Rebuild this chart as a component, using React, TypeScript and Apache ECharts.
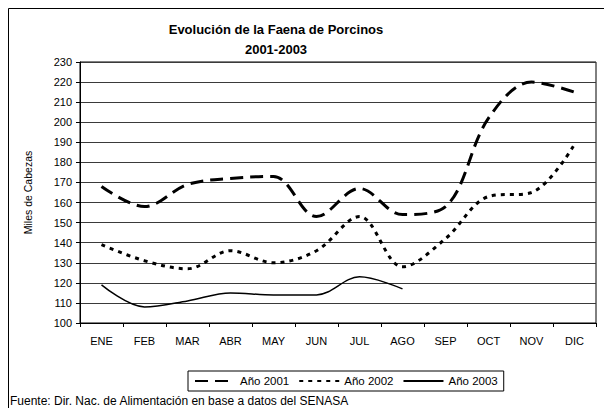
import React, { useEffect, useRef } from "react";
import * as echarts from "echarts";

const months = ["ENE", "FEB", "MAR", "ABR", "MAY", "JUN", "JUL", "AGO", "SEP", "OCT", "NOV", "DIC"];
const y2001 = [168, 158, 169, 172, 173, 153, 167, 154, 158, 202, 220, 215];
const y2002 = [139, 131, 127, 136, 130, 136, 153, 128, 142, 163, 165, 189];
const y2003 = [119, 108, 111, 115, 114, 114, 123, 117];
const seriesNames = ["Año 2001", "Año 2002", "Año 2003"];

export default function App() {
  const ref = useRef<HTMLDivElement>(null);
  useEffect(() => {
    if (!ref.current) return;
    const chart = echarts.init(ref.current, null, { renderer: "svg" });
    const font = "Liberation Sans, Arial, sans-serif";
    chart.setOption({
      animation: false,
      backgroundColor: "#ffffff",
      textStyle: { fontFamily: font },
      title: {
        text: "Evolución de la Faena de Porcinos\n2001-2003",
        left: 271,
        top: 14,
        textAlign: "center",
        textStyle: { fontSize: 13, fontWeight: "bold", color: "#000", lineHeight: 20, fontFamily: font },
      },
      grid: { left: 80, right: 8, top: 62, bottom: 85, show: true, borderColor: "#000", borderWidth: 1 },
      legend: {
        data: seriesNames,
        left: 188,
        top: 371,
        itemWidth: 40,
        itemHeight: 10,
        itemGap: 9,
        padding: [4, 6, 4, 6],
        borderColor: "#000",
        borderWidth: 1,
        itemStyle: { opacity: 0 },
        textStyle: { fontSize: 11.5, color: "#000", fontFamily: font },
      },
      xAxis: {
        type: "category",
        data: months,
        boundaryGap: true,
        axisLine: { lineStyle: { color: "#000", width: 1 } },
        axisTick: { show: true, length: 4, lineStyle: { color: "#000" } },
        axisLabel: { fontSize: 11, color: "#000", margin: 12, fontFamily: font },
        splitLine: { show: false },
      },
      yAxis: {
        type: "value",
        min: 100,
        max: 230,
        interval: 10,
        name: "Miles de Cabezas",
        nameLocation: "middle",
        nameGap: 47,
        nameTextStyle: { fontSize: 10.5, color: "#000", fontFamily: font },
        axisLine: { show: true, lineStyle: { color: "#000", width: 1 } },
        axisTick: { show: true, length: 4, lineStyle: { color: "#000" } },
        axisLabel: { fontSize: 11, color: "#000", margin: 8, fontFamily: font },
        splitLine: { show: true, lineStyle: { color: "#3a3a3a", width: 1 } },
      },
      series: [
        {
          name: seriesNames[0],
          type: "line",
          data: y2001,
          smooth: 0.35,
          symbol: "none",
          lineStyle: { color: "#000", width: 3, type: [13, 7] },
          itemStyle: { color: "#000" },
        },
        {
          name: seriesNames[1],
          type: "line",
          data: y2002,
          smooth: 0.35,
          symbol: "none",
          lineStyle: { color: "#000", width: 3, type: [4, 5] },
          itemStyle: { color: "#000" },
        },
        {
          name: seriesNames[2],
          type: "line",
          data: y2003,
          smooth: 0.35,
          symbol: "none",
          lineStyle: { color: "#000", width: 1.5, type: "solid" },
          itemStyle: { color: "#000" },
        },
      ],
      graphic: [
        {
          type: "rect",
          shape: { x: 8.5, y: 8.5, width: 640, height: 440 },
          style: { fill: "none", stroke: "#000", lineWidth: 1 },
          silent: true,
        },
        {
          type: "text",
          x: 10,
          y: 395,
          style: {
            text: "Fuente: Dir. Nac. de Alimentación en base a datos del SENASA",
            fontSize: 12,
            fill: "#000",
            fontFamily: font,
          },
        },
      ],
    });
    return () => chart.dispose();
  }, []);
  return <div ref={ref} style={{ position: "fixed", left: 0, top: 0, width: 604, height: 408 }} />;
}
